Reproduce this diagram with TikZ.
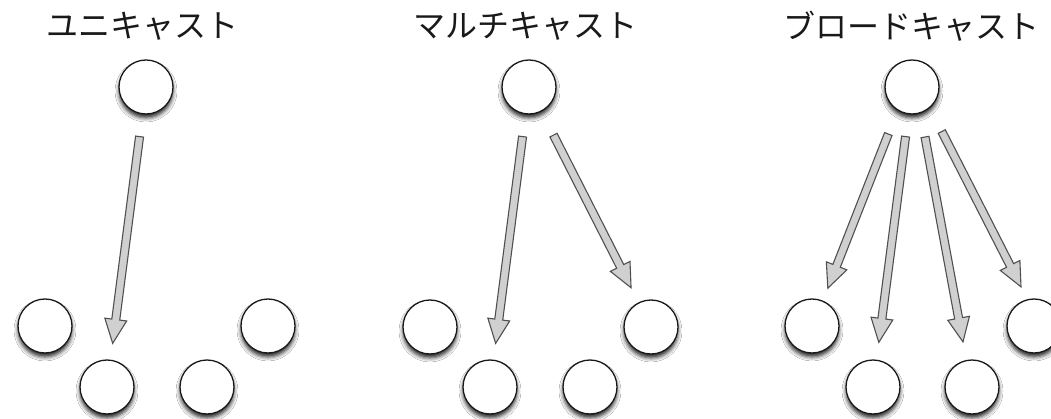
\documentclass[tikz,border=0pt]{standalone}
\usepackage{fontspec}
\newfontfamily\cjk{Noto Sans CJK JP}
\usetikzlibrary{calc,shadows.blur}
\definecolor{arrfill}{HTML}{D0D0D0}
\definecolor{arrline}{HTML}{505050}
\tikzset{
  host/.style={circle, minimum size=54pt, inner sep=0pt, fill=white, draw=black!90, line width=1.3pt,
    blur shadow={shadow xshift=0pt, shadow yshift=-4pt, shadow blur radius=4pt, shadow opacity=85}},
  title/.style={font=\cjk\fontsize{32}{36}\selectfont, inner sep=0pt, text=black!90},
  fatarrow/.style={fill=arrfill, draw=arrline, line width=1.1pt, line join=miter}
}
\newcommand{\fatarw}[2]{%
  \coordinate (fa-p) at ($(#2)!24pt!(#1)$);
  \draw[fatarrow] ($(#1)!4pt!90:(#2)$) -- ($(fa-p)!4pt!90:(#2)$) -- ($(fa-p)!11pt!90:(#2)$) -- (#2)
     -- ($(fa-p)!11pt!-90:(#2)$) -- ($(fa-p)!4pt!-90:(#2)$) -- ($(#1)!4pt!-90:(#2)$) -- cycle;}
\begin{document}
\begin{tikzpicture}[x=1pt,y=-1pt]
\useasboundingbox[fill=white] (0,0) rectangle (1051,419);
% titles
\node[title] (t1) at (142,26) {ユニキャスト};
\node[title] (t2) at (525,26) {マルチキャスト};
\node[title] (t3) at (911,26) {ブロードキャスト};
% panel 1
\node[host] (n1) at (146,87) {};
\node[host] (a1) at (45,326) {};
\node[host] (a2) at (107,387) {};
\node[host] (a3) at (207,387) {};
\node[host] (a4) at (268,326) {};
% panel 2
\node[host] (n2) at (529,87) {};
\node[host] (b1) at (430,327) {};
\node[host] (b2) at (490,387) {};
\node[host] (b3) at (590,387) {};
\node[host] (b4) at (651,327) {};
% panel 3
\node[host] (n3) at (912,87) {};
\node[host] (c1) at (812,326) {};
\node[host] (c2) at (873,387) {};
\node[host] (c3) at (972,387) {};
\node[host] (c4) at (1034,326) {};
% arrow end points
\coordinate (s12) at ($(n1)!50pt!(a2)$);
\coordinate (e12) at ($(a2)!44pt!(n1)$);
\coordinate (s22) at ($(n2)!50pt!(b2)$);
\coordinate (e22) at ($(b2)!44pt!(n2)$);
\coordinate (s24) at ($(n2)!54pt!(b4)$);
\coordinate (e24) at ($(b4)!44pt!(n2)$);
\coordinate (s31) at ($(n3)!51pt!(c1) + (-4,0)$);
\coordinate (e31) at ($(c1)!41pt!(n3)$);
\coordinate (s32) at ($(n3)!50pt!(c2)$);
\coordinate (e32) at ($(c2)!45pt!(n3)$);
\coordinate (s33) at ($(n3)!51pt!(c3) + (3,0)$);
\coordinate (e33) at ($(c3)!46pt!(n3)$);
\coordinate (s34) at ($(n3)!50pt!(c4) + (7,0)$);
\coordinate (e34) at ($(c4)!44pt!(n3) + (7,0)$);
% arrows
\fatarw{s12}{e12}
\fatarw{s22}{e22}
\fatarw{s24}{e24}
\fatarw{s31}{e31}
\fatarw{s32}{e32}
\fatarw{s33}{e33}
\fatarw{s34}{e34}
\end{tikzpicture}
\end{document}
